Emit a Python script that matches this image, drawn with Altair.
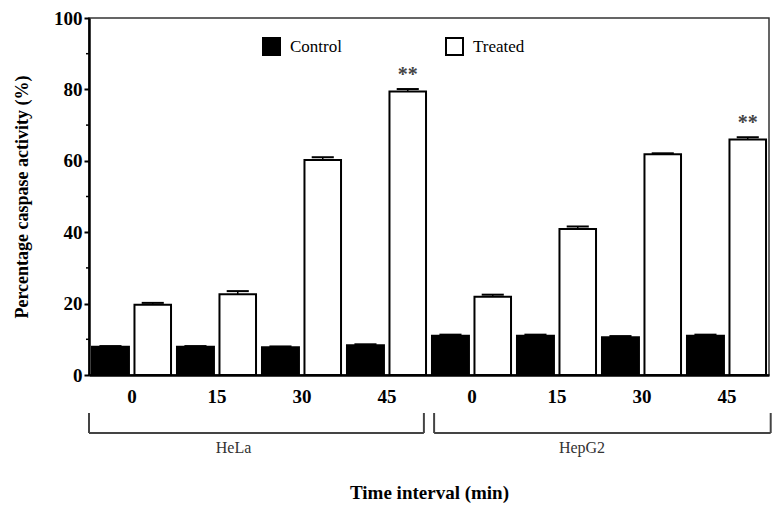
import json
import altair as alt
import pandas as pd

# ---- data ----
times = ["0", "15", "30", "45"]
cells = ["HeLa", "HepG2"]
series = ["Control", "Treated"]
control_hela = [7.9, 7.9, 7.8, 8.3]
treated_hela = [19.7, 22.6, 60.2, 79.4]
control_hepg2 = [11.0, 11.0, 10.6, 11.0]
treated_hepg2 = [21.9, 40.9, 61.8, 66.0]
err_control_hela = [0.2, 0.2, 0.2, 0.3]
err_treated_hela = [0.5, 0.9, 0.8, 0.7]
err_control_hepg2 = [0.3, 0.3, 0.3, 0.3]
err_treated_hepg2 = [0.6, 0.7, 0.3, 0.6]
sig_hela = ["", "", "", "**"]
sig_hepg2 = ["", "", "", "**"]
y_major = [0, 20, 40, 60, 80, 100]
y_minor = [10, 30, 50, 70, 90]

SERIF = "Liberation Serif"

# ---- build table (layout offsets within a group of width 1) ----
off = {"Control": (0.035, 0.47), "Treated": (0.535, 0.965)}
rows = []
vals = {
    "HeLa": {"Control": (control_hela, err_control_hela, [""] * 4),
             "Treated": (treated_hela, err_treated_hela, sig_hela)},
    "HepG2": {"Control": (control_hepg2, err_control_hepg2, [""] * 4),
              "Treated": (treated_hepg2, err_treated_hepg2, sig_hepg2)},
}
for ci, cell in enumerate(cells):
    for ti, t in enumerate(times):
        g = ci * len(times) + ti
        for s in series:
            v, e, sg = vals[cell][s]
            a, b = off[s]
            c = g + (a + b) / 2
            rows.append(dict(cell=cell, time=t, series=s, value=v[ti], err=e[ti],
                             top=v[ti] + e[ti], x0=g + a, x1=g + b, xc=c,
                             c0=c - 0.13, c1=c + 0.13, sig=sg[ti],
                             sy=v[ti] + e[ti] + 4.0))
df = pd.DataFrame(rows)

brackets = pd.DataFrame([
    dict(cell="HeLa", b0=0.0, b1=3.94, lx=1.7),
    dict(cell="HepG2", b0=4.06, b1=8.02, lx=5.8),
])
minor = pd.DataFrame(dict(v=y_minor))

label_expr = json.dumps(times) + "[floor(datum.value) % 4]"

xscale = alt.Scale(domain=[0, 8], nice=False, zero=False)
yscale = alt.Scale(domain=[0, 100], nice=False)

x_axis = alt.Axis(values=[i + 0.5 for i in range(8)], labelExpr=label_expr,
                  ticks=False, domainColor="black", domainWidth=2.5,
                  labelFont=SERIF, labelFontSize=19, labelFontWeight="bold",
                  labelColor="black", labelPadding=12,
                  title="Time interval (min)", titleFont=SERIF, titleFontSize=19,
                  titleFontWeight="bold", titleColor="black", titleY=117,
                  titleBaseline="middle")
y_axis = alt.Axis(values=y_major, domainColor="black", domainWidth=2.5,
                  tickColor="black", tickWidth=2, tickSize=5,
                  labelFont=SERIF, labelFontSize=19, labelFontWeight="bold",
                  labelColor="black", labelPadding=2,
                  title="Percentage caspase activity (%)", titleFont=SERIF,
                  titleFontSize=18, titleFontWeight="bold", titleColor="black",
                  titlePadding=22)

base = alt.Chart(df)

bars = base.mark_rect(stroke="black", strokeWidth=2).encode(
    x=alt.X("x0:Q", scale=xscale, axis=x_axis),
    x2="x1:Q",
    y=alt.Y("value:Q", scale=yscale, axis=y_axis),
    y2=alt.datum(0),
    fill=alt.Fill("series:N",
                  scale=alt.Scale(domain=series, range=["black", "white"]),
                  legend=alt.Legend(title=None, orient="none", direction="horizontal",
                                    legendX=173, legendY=19, symbolType="square",
                                    symbolSize=289, symbolStrokeColor="black",
                                    symbolStrokeWidth=2, labelFont=SERIF,
                                    labelFontSize=17, labelColor="black",
                                    labelOffset=9, columnPadding=100, padding=0)),
)

whisk = base.mark_rule(color="black", strokeWidth=1.5).encode(
    x="xc:Q", y="value:Q", y2="top:Q")
caps = base.mark_rule(color="black", strokeWidth=2).encode(
    x="c0:Q", x2="c1:Q", y="top:Q")

stars = base.transform_filter("datum.sig != ''").mark_text(
    font=SERIF, fontSize=20, fontWeight="bold", color="#444", baseline="middle"
).encode(x="xc:Q", y="sy:Q", text="sig:N")

minor_ticks = alt.Chart(minor).mark_rule(color="black", strokeWidth=1.5).encode(
    x=alt.value(-3), x2=alt.value(0), y=alt.Y("v:Q", scale=yscale))

bchart = alt.Chart(brackets)
b_h = bchart.mark_rule(color="#444", strokeWidth=2).encode(
    x=alt.X("b0:Q", scale=xscale), x2="b1:Q", y=alt.value(415))
b_l = bchart.mark_rule(color="#444", strokeWidth=2).encode(
    x=alt.X("b0:Q", scale=xscale), y=alt.value(395), y2=alt.value(415))
b_r = bchart.mark_rule(color="#444", strokeWidth=2).encode(
    x=alt.X("b1:Q", scale=xscale), y=alt.value(395), y2=alt.value(415))
b_t = bchart.mark_text(font=SERIF, fontSize=16, color="#333", baseline="middle").encode(
    x=alt.X("lx:Q", scale=xscale), y=alt.value(430), text="cell:N")

chart = alt.layer(bars, whisk, caps, stars, minor_ticks, b_h, b_l, b_r, b_t).properties(
    width=680, height=357,
    autosize=alt.AutoSizeParams(type="none"),
    padding={"left": 81, "top": 10, "right": 7, "bottom": 129},
).configure_view(stroke="#333", strokeWidth=1.5).configure_axis(grid=False)

chart.save("out.html", embed_options={"renderer": "svg", "actions": False})
